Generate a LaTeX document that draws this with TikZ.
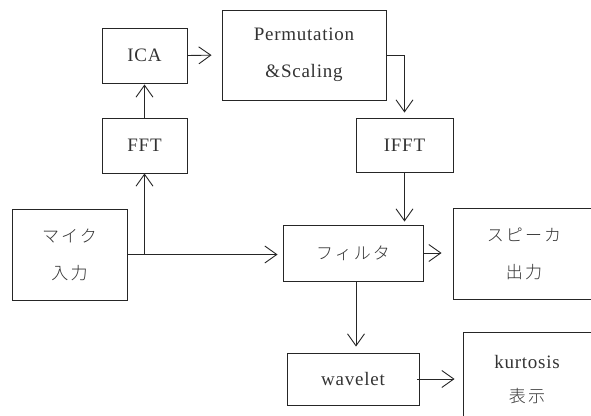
\documentclass[tikz,border=0pt]{standalone}
\usepackage{fontspec}
\setmainfont{Liberation Serif}[LetterSpace=4]
\newfontfamily\cjk[LetterSpace=12]{Noto Sans CJK JP Light}
\usetikzlibrary{arrows.meta}
\tikzset{
  blk/.style={draw=black!85, line width=0.9pt, minimum width=#1, inner sep=0pt, align=center,
    text=black!80, font=\fontsize{19}{37}\selectfont},
  flow/.style={draw=black!85, line width=0.9pt, -{Straight Barb[length=12pt,width=17pt,line width=0.9pt]}},
  jp/.style={font=\fontsize{17}{37}\selectfont\cjk}
}
\begin{document}
\begin{tikzpicture}[x=1pt,y=-1pt]
\useasboundingbox (0,0) rectangle (591,415);
\clip (0,0) rectangle (591,415);
% processing blocks
\node[blk=85pt, minimum height=55pt] (ica) at (144.5,55.5) {ICA};
\node[blk=85pt, minimum height=55pt] (fft) at (144.5,145.5) {FFT};
\node[blk=164pt, minimum height=90pt] (perm) at (304,55) {Permutation\\\&Scaling};
\node[blk=97pt, minimum height=54pt] (ifft) at (404.5,145) {IFFT};
\node[blk=140pt, minimum height=56pt, jp] (filt) at (353,253) {フィルタ};
\node[blk=115pt, minimum height=91pt, jp] (mic) at (69.5,254.5) {マイク\\入力};
\node[blk=142pt, minimum height=91pt, jp] (spk) at (524,253.5) {スピーカ\\出力};
\node[blk=132pt, minimum height=52pt] (wav) at (353,379) {wavelet};
\node[blk=150pt, minimum height=100pt] (kurt) at (538,382) {};
\node[align=center, inner sep=0pt, text=black!80, font=\fontsize{19}{34}\selectfont] (kurtlbl) at (527,380)
  {kurtosis\\{\fontsize{17}{20}\selectfont\cjk 表示}};
% connectors
\coordinate (j) at (fft.south |- mic.east);
\draw[flow, shorten >=1pt] (fft.north) -- (ica.south);
\draw[flow] (j) -- (fft.south);
\draw[flow, shorten >=10pt] (ica.east) -- (perm.west);
\draw[flow, shorten >=5pt] (perm.east) -| (ifft.north);
\draw[flow, shorten >=3pt] (ifft.south) -- (ifft.south |- filt.north);
\draw[flow, shorten >=5pt] (mic.east) -- (mic.east -| filt.west);
\draw[flow, shorten >=11pt] (filt.east) -- (filt.east -| spk.west);
\draw[flow, shorten >=6pt] ([xshift=3pt]filt.south) -- ([xshift=3pt]wav.north);
\draw[flow, shorten >=8pt] ([xshift=-2pt]wav.east) -- (wav.east -| kurt.west);
\end{tikzpicture}
\end{document}
